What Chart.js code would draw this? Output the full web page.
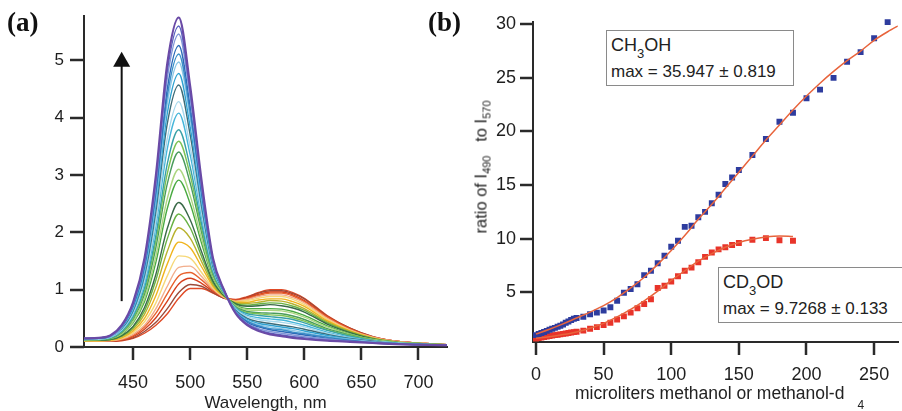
<!DOCTYPE html>
<html>
<head>
<meta charset="utf-8">
<script src="https://cdn.jsdelivr.net/npm/chart.js@4.4.1/dist/chart.umd.min.js"></script>
<style>
  body { margin: 0; width: 902px; height: 411px; overflow: hidden; background: #fff; position: relative; font-family: "Liberation Sans", Arial, sans-serif; color: #222; }
  canvas { position: absolute; top: 0; }
  #spectra { left: 0; }
  #ratio { left: 440px; }
  .panel { position: absolute; font: bold 27px "Liberation Serif", "Times New Roman", serif; line-height: 27px; color: #111; }
  .box { position: absolute; box-sizing: border-box; height: 56px; border: 1.5px solid #8a8a8a; background: #fff; padding: 1.5px 0 0 4px; }
  .box div { white-space: nowrap; line-height: 25px; }
  .box .name { font-size: 18px; }
  .box .fit { font-size: 17px; }
  .box span { font-size: 13px; position: relative; top: 7px; }
  .ytitle { position: absolute; left: 481px; top: 167px; transform: translate(-50%, -50%) rotate(-90deg); white-space: nowrap; font-size: 16.5px; }
  .ytitle span { font-size: 11px; position: relative; top: 4px; }
  .xtitle { position: absolute; left: 575px; top: 383px; white-space: nowrap; font-size: 17.5px; line-height: 20px; }
  .xtitle span { font-size: 12px; position: relative; top: 10px; margin-left: 13px; }
</style>
</head>
<body>
<canvas id="spectra" width="450" height="420"></canvas>
<canvas id="ratio" width="462" height="420"></canvas>
<div class="panel" style="left:7px;top:9px">(a)</div>
<div class="panel" style="left:428px;top:9px">(b)</div>
<div class="box" style="left:606px;top:30px;width:188px">
  <div class="name">CH<span>3</span>OH</div>
  <div class="fit">max = 35.947 ± 0.819</div>
</div>
<div class="box" style="left:718px;top:267px;width:200px">
  <div class="name">CD<span>3</span>OD</div>
  <div class="fit">max = 9.7268 ± 0.133</div>
</div>
<div class="ytitle">ratio of I<span>490</span>&nbsp;&nbsp; to I<span>570</span></div>
<div class="xtitle">microliters methanol or methanol-d<span>4</span></div>
<script>
// panel (a): emission spectra, from the last addition (top) down to the first
const wavelengths = [407, 420, 430, 440, 450, 460, 470, 480, 490, 500, 510, 520, 530, 540, 550, 560, 570, 580, 590, 600, 620, 640, 660, 680, 700, 725]
const spectra = [
  [0.15, 0.16, 0.20, 0.38, 0.78, 1.55, 3.00, 4.95, 5.75, 4.55, 2.90, 1.55, 0.98, 0.58, 0.38, 0.28, 0.22, 0.19, 0.16, 0.14, 0.11, 0.09, 0.07, 0.05, 0.04, 0.03],
  [0.15, 0.16, 0.20, 0.37, 0.76, 1.51, 2.92, 4.82, 5.60, 4.44, 2.84, 1.53, 0.98, 0.59, 0.40, 0.30, 0.24, 0.21, 0.18, 0.16, 0.12, 0.10, 0.07, 0.05, 0.04, 0.03],
  [0.15, 0.16, 0.19, 0.36, 0.74, 1.47, 2.84, 4.69, 5.46, 4.34, 2.79, 1.51, 0.97, 0.60, 0.41, 0.32, 0.27, 0.24, 0.21, 0.18, 0.14, 0.10, 0.08, 0.05, 0.04, 0.03],
  [0.15, 0.15, 0.19, 0.35, 0.72, 1.42, 2.74, 4.51, 5.26, 4.20, 2.71, 1.49, 0.97, 0.61, 0.43, 0.35, 0.30, 0.27, 0.24, 0.21, 0.15, 0.11, 0.08, 0.06, 0.04, 0.03],
  [0.14, 0.15, 0.19, 0.35, 0.70, 1.38, 2.66, 4.38, 5.11, 4.09, 2.66, 1.47, 0.96, 0.61, 0.45, 0.37, 0.32, 0.30, 0.26, 0.23, 0.17, 0.12, 0.08, 0.06, 0.04, 0.03],
  [0.14, 0.15, 0.18, 0.34, 0.68, 1.34, 2.58, 4.25, 4.97, 3.99, 2.60, 1.45, 0.96, 0.62, 0.46, 0.39, 0.35, 0.32, 0.29, 0.25, 0.18, 0.13, 0.09, 0.06, 0.04, 0.03],
  [0.14, 0.15, 0.18, 0.33, 0.65, 1.29, 2.48, 4.08, 4.77, 3.84, 2.52, 1.43, 0.95, 0.63, 0.48, 0.41, 0.38, 0.35, 0.32, 0.28, 0.20, 0.14, 0.09, 0.06, 0.05, 0.03],
  [0.14, 0.15, 0.18, 0.32, 0.63, 1.24, 2.37, 3.90, 4.57, 3.70, 2.45, 1.40, 0.95, 0.64, 0.50, 0.44, 0.41, 0.38, 0.35, 0.31, 0.22, 0.15, 0.10, 0.06, 0.05, 0.03],
  [0.14, 0.14, 0.17, 0.30, 0.59, 1.16, 2.21, 3.64, 4.28, 3.49, 2.34, 1.37, 0.94, 0.66, 0.53, 0.48, 0.45, 0.43, 0.40, 0.35, 0.24, 0.16, 0.10, 0.07, 0.05, 0.03],
  [0.13, 0.14, 0.17, 0.29, 0.57, 1.10, 2.11, 3.46, 4.08, 3.35, 2.26, 1.34, 0.94, 0.67, 0.55, 0.51, 0.49, 0.47, 0.43, 0.38, 0.26, 0.17, 0.11, 0.07, 0.05, 0.03],
  [0.13, 0.14, 0.16, 0.27, 0.53, 1.03, 1.95, 3.20, 3.79, 3.14, 2.15, 1.31, 0.93, 0.68, 0.58, 0.55, 0.53, 0.51, 0.48, 0.42, 0.29, 0.19, 0.11, 0.07, 0.05, 0.03],
  [0.13, 0.13, 0.16, 0.26, 0.50, 0.97, 1.85, 3.03, 3.59, 3.00, 2.07, 1.28, 0.92, 0.69, 0.60, 0.58, 0.56, 0.55, 0.51, 0.45, 0.30, 0.20, 0.12, 0.07, 0.05, 0.03],
  [0.13, 0.13, 0.15, 0.25, 0.48, 0.92, 1.74, 2.85, 3.40, 2.86, 2.00, 1.26, 0.92, 0.70, 0.62, 0.60, 0.59, 0.58, 0.54, 0.48, 0.32, 0.21, 0.12, 0.07, 0.05, 0.03],
  [0.12, 0.13, 0.15, 0.23, 0.44, 0.84, 1.59, 2.59, 3.10, 2.64, 1.89, 1.22, 0.91, 0.72, 0.65, 0.64, 0.64, 0.63, 0.59, 0.52, 0.35, 0.22, 0.13, 0.08, 0.06, 0.04],
  [0.12, 0.13, 0.14, 0.22, 0.42, 0.79, 1.48, 2.42, 2.91, 2.50, 1.81, 1.20, 0.91, 0.73, 0.67, 0.67, 0.67, 0.66, 0.62, 0.55, 0.37, 0.23, 0.13, 0.08, 0.06, 0.04],
  [0.12, 0.12, 0.13, 0.20, 0.36, 0.69, 1.27, 2.07, 2.52, 2.22, 1.66, 1.15, 0.89, 0.75, 0.71, 0.72, 0.74, 0.72, 0.68, 0.61, 0.40, 0.25, 0.14, 0.08, 0.06, 0.04],
  [0.12, 0.12, 0.13, 0.19, 0.34, 0.63, 1.17, 1.89, 2.32, 2.08, 1.58, 1.12, 0.89, 0.76, 0.73, 0.75, 0.77, 0.76, 0.71, 0.64, 0.42, 0.26, 0.15, 0.09, 0.06, 0.04],
  [0.11, 0.12, 0.13, 0.18, 0.31, 0.57, 1.04, 1.67, 2.08, 1.90, 1.49, 1.09, 0.88, 0.77, 0.76, 0.78, 0.81, 0.80, 0.75, 0.67, 0.44, 0.27, 0.15, 0.09, 0.06, 0.04],
  [0.11, 0.11, 0.12, 0.16, 0.28, 0.50, 0.90, 1.45, 1.83, 1.73, 1.40, 1.06, 0.88, 0.78, 0.78, 0.82, 0.84, 0.84, 0.79, 0.71, 0.46, 0.28, 0.16, 0.09, 0.06, 0.04],
  [0.11, 0.11, 0.12, 0.15, 0.25, 0.44, 0.77, 1.24, 1.59, 1.55, 1.30, 1.03, 0.87, 0.79, 0.81, 0.85, 0.88, 0.88, 0.83, 0.74, 0.48, 0.29, 0.16, 0.09, 0.07, 0.04],
  [0.11, 0.11, 0.11, 0.14, 0.22, 0.38, 0.67, 1.06, 1.39, 1.41, 1.23, 1.01, 0.86, 0.80, 0.83, 0.88, 0.91, 0.91, 0.86, 0.77, 0.50, 0.30, 0.17, 0.10, 0.07, 0.04],
  [0.10, 0.10, 0.11, 0.13, 0.20, 0.35, 0.59, 0.93, 1.24, 1.30, 1.17, 0.99, 0.86, 0.81, 0.84, 0.90, 0.94, 0.94, 0.89, 0.79, 0.52, 0.31, 0.17, 0.10, 0.07, 0.04],
  [0.10, 0.10, 0.11, 0.12, 0.18, 0.31, 0.51, 0.80, 1.10, 1.20, 1.11, 0.97, 0.86, 0.82, 0.86, 0.92, 0.96, 0.96, 0.91, 0.81, 0.53, 0.32, 0.17, 0.10, 0.07, 0.04],
  [0.10, 0.10, 0.10, 0.12, 0.16, 0.27, 0.43, 0.67, 0.95, 1.09, 1.06, 0.95, 0.85, 0.82, 0.87, 0.94, 0.98, 0.98, 0.93, 0.84, 0.54, 0.33, 0.18, 0.10, 0.07, 0.04],
  [0.10, 0.10, 0.10, 0.11, 0.15, 0.24, 0.38, 0.58, 0.85, 1.02, 1.02, 0.94, 0.85, 0.83, 0.88, 0.95, 1.00, 1.00, 0.95, 0.85, 0.55, 0.33, 0.18, 0.10, 0.07, 0.04]
]
const spectrumColors = ['#6a4aa6', '#5a62c0', '#8196d8', '#2c6cb8', '#3a90c8', '#8ac6e6', '#2ea2d2', '#3d6c78', '#a6d8ec', '#46b6da', '#38a0a6', '#7cc254', '#4a9c5c', '#acd680', '#4aaa42', '#3a6a48', '#68b244', '#b8b22e', '#f0b41e', '#f6d878', '#f2ae8c', '#e8622e', '#d6401e', '#9c4a3a', '#e04a26']
const wavelengthTicks = [450, 500, 550, 600, 650, 700]
const intensityTicks = [0, 1, 2, 3, 4, 5]
// the arrow drawn at 440 nm
const arrowWavelength = 440
const arrowFrom = 0.8
const arrowTo = 5.15

// panel (b): titration points and fitted curves
const ch3ohVolume = [0, 2, 4, 6, 8, 10, 12, 14, 16, 18, 20, 22, 24, 26, 28, 30, 35, 40, 45, 50, 55, 60, 65, 70, 75, 80, 85, 90, 95, 100, 105, 110, 115, 120, 125, 130, 135, 140, 145, 150, 160, 170, 180, 190, 200, 210, 220, 230, 240, 250, 260]
const ch3ohRatio = [1.0, 1.1, 1.2, 1.3, 1.4, 1.5, 1.6, 1.68, 1.78, 1.88, 2.0, 2.15, 2.28, 2.42, 2.52, 2.6, 2.72, 2.95, 3.1, 3.3, 3.6, 4.2, 4.95, 5.3, 5.75, 6.6, 7.0, 7.7, 8.4, 9.25, 9.8, 11.1, 11.2, 12.0, 12.5, 13.3, 14.1, 15.1, 15.7, 16.4, 17.8, 19.3, 20.9, 21.75, 23.1, 23.9, 25.0, 26.5, 27.4, 28.7, 30.2]
const cd3odVolume = [0, 2, 4, 6, 8, 10, 12, 14, 16, 18, 20, 22, 24, 26, 28, 30, 35, 40, 45, 50, 55, 60, 65, 70, 75, 80, 85, 90, 95, 100, 105, 110, 115, 120, 125, 130, 135, 140, 145, 150, 160, 170, 180, 190]
const cd3odRatio = [0.68, 0.72, 0.77, 0.82, 0.87, 0.92, 0.96, 1.0, 1.03, 1.07, 1.12, 1.16, 1.2, 1.24, 1.28, 1.32, 1.42, 1.6, 1.75, 1.95, 2.15, 2.45, 2.75, 3.1, 3.5, 3.9, 4.35, 5.4, 5.6, 6.0, 6.5, 7.0, 7.3, 7.8, 8.3, 8.7, 9.0, 9.2, 9.4, 9.6, 9.9, 10.05, 9.85, 9.8]
const ch3ohFitVolume = [0, 10, 20, 30, 40, 50, 60, 70, 80, 90, 100, 110, 120, 130, 140, 150, 160, 170, 180, 190, 200, 210, 220, 230, 240, 250, 260, 270]
const ch3ohFit = [1.1, 1.55, 2.05, 2.6, 3.15, 3.75, 4.5, 5.4, 6.4, 7.6, 8.9, 10.3, 11.8, 13.2, 14.7, 16.2, 17.7, 19.2, 20.6, 22.0, 23.3, 24.5, 25.6, 26.6, 27.5, 28.5, 29.3, 30.0]
const cd3odFitVolume = [0, 10, 20, 30, 40, 50, 60, 70, 80, 90, 100, 110, 120, 130, 140, 150, 160, 170, 180, 190]
const cd3odFit = [0.7, 0.85, 1.05, 1.3, 1.65, 2.1, 2.7, 3.4, 4.2, 5.1, 6.1, 7.0, 7.9, 8.6, 9.2, 9.65, 9.95, 10.15, 10.25, 10.2]
const volumeTicks = [0, 50, 100, 150, 200, 250]
const ratioTicks = [5, 10, 15, 20, 25, 30]

Chart.defaults.font.family = '"Liberation Sans", Arial, sans-serif'
Chart.defaults.color = '#222'

const axisColor = '#2a2a2a'

function pairs (xs, ys) {
  return xs.map((x, i) => ({ x, y: ys[i] }))
}

function axis (min, max, ticks, size, tickLength, padding, fontSize) {
  return {
    type: 'linear',
    min,
    max,
    afterBuildTicks: (scale) => { scale.ticks = ticks.map((value) => ({ value })) },
    afterFit: (scale) => {
      if (scale.isHorizontal()) scale.height = size
      else scale.width = size
    },
    border: { display: true, color: axisColor, width: 2 },
    grid: { drawOnChartArea: false, drawTicks: true, tickLength, color: axisColor, tickColor: axisColor, lineWidth: 2, tickWidth: 2 },
    ticks: { font: { size: fontSize }, color: '#1e1e1e', padding, maxRotation: 0, autoSkip: false }
  }
}

// outward tick marks, drawn from each scale's own ticks
const tickMarks = {
  id: 'tickMarks',
  afterDraw (chart) {
    const { ctx, chartArea } = chart
    ctx.save()
    ctx.strokeStyle = axisColor
    ctx.lineWidth = 2.5
    Object.values(chart.scales).forEach((scale) => {
      const length = scale.options.grid.tickLength
      scale.ticks.forEach((tick) => {
        const p = Math.round(scale.getPixelForValue(tick.value))
        ctx.beginPath()
        if (scale.isHorizontal()) {
          ctx.moveTo(p, chartArea.bottom)
          ctx.lineTo(p, chartArea.bottom + length)
        } else {
          ctx.moveTo(chartArea.left, p)
          ctx.lineTo(chartArea.left - length, p)
        }
        ctx.stroke()
      })
    })
    ctx.restore()
  }
}

const arrowPlugin = {
  id: 'arrow',
  afterDatasetsDraw (chart) {
    const { ctx, scales } = chart
    const x = scales.x.getPixelForValue(arrowWavelength)
    const yFrom = scales.y.getPixelForValue(arrowFrom)
    const yTo = scales.y.getPixelForValue(arrowTo)
    ctx.save()
    ctx.strokeStyle = '#111'
    ctx.fillStyle = '#111'
    ctx.lineWidth = 2
    ctx.beginPath()
    ctx.moveTo(x, yFrom)
    ctx.lineTo(x, yTo + 12)
    ctx.stroke()
    ctx.beginPath()
    ctx.moveTo(x, yTo)
    ctx.lineTo(x - 8.5, yTo + 15)
    ctx.lineTo(x + 8.5, yTo + 15)
    ctx.closePath()
    ctx.fill()
    ctx.restore()
  }
}

const xA = axis(407, 725, wavelengthTicks, 73, 13, 12, 18)
xA.title = { display: true, text: 'Wavelength, nm', font: { size: 17 }, color: '#222', padding: { top: 0, bottom: 6 } }

new Chart(document.getElementById('spectra'), {
  type: 'line',
  data: {
    datasets: spectra.map((values, i) => ({
      data: pairs(wavelengths, values),
      borderColor: spectrumColors[i],
      borderWidth: i === 0 ? 2.2 : 1.4,
      pointRadius: 0,
      fill: false,
      cubicInterpolationMode: 'monotone'
    }))
  },
  options: {
    responsive: false,
    animation: false,
    events: [],
    layout: { padding: { left: 0, top: 14, right: 3, bottom: 0 } },
    plugins: { legend: { display: false }, tooltip: { enabled: false } },
    scales: {
      x: xA,
      y: axis(0, 5.77, intensityTicks, 84, 14, 6, 17)
    }
  },
  plugins: [arrowPlugin, tickMarks]
})

const fitStyle = { borderColor: '#e8643c', borderWidth: 1.5, pointRadius: 0, fill: false, cubicInterpolationMode: 'monotone' }
const markStyle = { showLine: false, pointStyle: 'rect', pointRadius: 4.2, pointBorderWidth: 0, clip: 6 }

new Chart(document.getElementById('ratio'), {
  type: 'line',
  data: {
    datasets: [
      { label: 'CH3OH fit', data: pairs(ch3ohFitVolume, ch3ohFit), ...fitStyle },
      { label: 'CD3OD fit', data: pairs(cd3odFitVolume, cd3odFit), ...fitStyle },
      { label: 'CH3OH', data: pairs(ch3ohVolume, ch3ohRatio), pointBackgroundColor: '#2e3c9e', ...markStyle },
      { label: 'CD3OD', data: pairs(cd3odVolume, cd3odRatio), pointBackgroundColor: '#e8342a', ...markStyle }
    ]
  },
  options: {
    responsive: false,
    animation: false,
    events: [],
    layout: { padding: { left: 0, top: 22, right: 0, bottom: 0 } },
    plugins: { legend: { display: false }, tooltip: { enabled: false } },
    scales: {
      x: axis(-2.2, 267.5, volumeTicks, 78, 13, 9, 18),
      y: axis(0.36, 30.21, ratioTicks, 93, 13, 4, 18)
    }
  },
  plugins: [tickMarks]
})
</script>
</body>
</html>
